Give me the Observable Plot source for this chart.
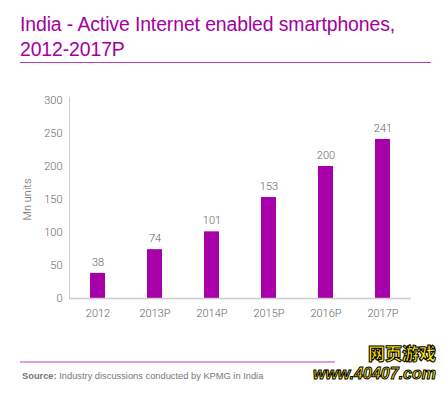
<!DOCTYPE html>
<html><head><meta charset="utf-8">
<script src="https://cdn.jsdelivr.net/npm/d3@7"></script>
<script src="https://cdn.jsdelivr.net/npm/@observablehq/plot@0.6"></script>
<style>
html,body{margin:0;padding:0;background:#fff;width:444px;height:397px;overflow:hidden;position:relative;font-family:"Roboto",sans-serif;}
#title{position:absolute;left:20px;top:12px;font-family:"Liberation Sans","Roboto",sans-serif;font-size:19.4px;line-height:24.5px;color:#a3009e;letter-spacing:-0.1px;}
#rule1{position:absolute;left:20px;top:62px;width:411px;height:1px;background:#b040b0;}
#chart{position:absolute;left:0;top:70px;}
#rule2{position:absolute;left:20px;top:361px;width:315px;height:1.5px;background:#d9a0d9;}
#source{position:absolute;left:22px;top:371px;font-family:"Liberation Sans","Roboto",sans-serif;font-size:9.3px;color:#777;}
#logo{position:absolute;left:312px;top:342px;font-family:"Noto Sans CJK SC",sans-serif;font-weight:900;color:#ffe800;-webkit-text-stroke:1px #000;text-align:right;width:124px;}
#logo .a{font-size:17px;line-height:22px;}
#logo .b{font-size:16px;line-height:20px;font-family:"Liberation Sans",sans-serif;font-weight:bold;font-style:italic;}
</style></head><body>
<div id="title">India - Active Internet enabled smartphones,<br>2012-2017P</div>
<div id="rule1"></div>
<div id="chart"></div>
<div id="rule2"></div>
<div id="source"><b>Source:</b> Industry discussions conducted by KPMG in India</div>
<div id="logo"><div class="a">网页游戏</div><div class="b">www.40407.com</div></div>
<script>
const years = ["2012", "2013P", "2014P", "2015P", "2016P", "2017P"];
const values = [38, 74, 101, 153, 200, 241];
const yTicks = [0, 50, 100, 150, 200, 250, 300];
const data = years.map((y, i) => ({year: y, value: values[i]}));

const chart = Plot.plot({
  width: 444,
  height: 270,
  marginLeft: 69,
  marginRight: 33,
  marginTop: 30,
  marginBottom: 42,
  style: {fontFamily: '"Roboto",sans-serif', fontSize: "11px", fontWeight: 300, color: "#666", background: "transparent"},
  x: {domain: years, paddingInner: 0.74, paddingOuter: 0.37, label: null},
  y: {domain: [0, 300], label: null},
  marks: [
    Plot.frame({anchor: "left", stroke: "#ccc", strokeWidth: 1, insetTop: -3}),
    Plot.axisY({ticks: yTicks, tickSize: 0, tickPadding: 7, label: "Mn units", labelAnchor: "center", labelArrow: "none", labelOffset: 46, fill: "#666", fontSize: 11}),
    Plot.axisX({tickSize: 0, tickPadding: 11, fill: "#666", fontSize: 11}),
    Plot.barY(data, {x: "year", y: "value", fill: "#a800a8"}),
    Plot.text(data, {x: "year", y: "value", text: d => String(d.value), dy: -11, fill: "#666", fontSize: 11}),
    Plot.ruleY([0], {stroke: "#ccc", strokeWidth: 1.5})
  ]
});
document.getElementById("chart").appendChild(chart);
</script>
</body></html>
